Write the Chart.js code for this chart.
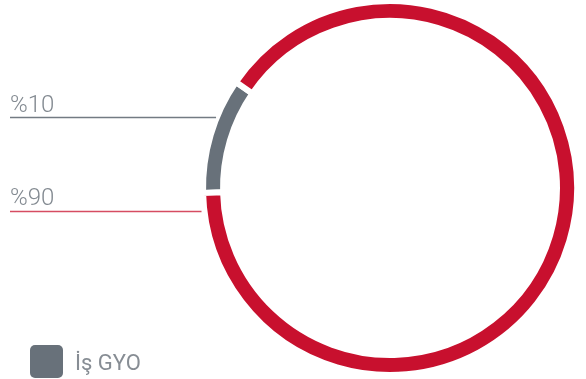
<!DOCTYPE html>
<html>
<head>
<meta charset="utf-8">
<script src="https://cdn.jsdelivr.net/npm/chart.js@4/dist/chart.umd.min.js"></script>
<style>
  html, body { margin: 0; padding: 0; background: #ffffff; overflow: hidden; }
  #wrap { position: relative; width: 586px; height: 379px; overflow: hidden; }
  #c { position: absolute; left: 0; top: -10px; }
  .pct { position: absolute; font-family: Roboto, "Liberation Sans", sans-serif; font-weight: 300;
         font-size: 24px; line-height: 24px; color: #838a91; white-space: nowrap; }
  #legend { position: absolute; left: 30px; top: 345px; display: flex; align-items: center; }
  #legend .box { width: 33px; height: 33px; border-radius: 5px; background: #68717a; }
  #legend .txt { margin-left: 12px; margin-top: 2px; font-family: Roboto, "Liberation Sans", sans-serif; font-size: 22px;
                 line-height: 22px; color: #878d94; white-space: nowrap; }
</style>
</head>
<body>
<div id="wrap">
  <canvas id="c" width="586" height="399"></canvas>
  <div class="pct" id="lbl0"></div>
  <div class="pct" id="lbl1"></div>
  <div id="legend"><div class="box"></div><div class="txt" id="legtxt"></div></div>
</div>
<script>
// ---- data ----
const categories = ['İş GYO', 'Diğer'];
const values = [10, 90];
const percentLabels = ['%10', '%90'];
const colors = ['#68717a', '#c8102e'];

// ---- layout / style (not data) ----
const CANVAS_SHIFT = 10; // canvas is placed 10px above the page top
const labelLayout = [
  { textTop: 92,  lineY: 117.5, gap: 4, lineColor: '#737b83' },
  { textTop: 185, lineY: 211.5, gap: 6, lineColor: 'rgba(200,16,46,0.75)' }
];
const BW = 6;

document.getElementById('lbl0').textContent = percentLabels[0];
document.getElementById('lbl1').textContent = percentLabels[1];
document.getElementById('legtxt').textContent = categories[0];
labelLayout.forEach((l, i) => {
  const el = document.getElementById('lbl' + i);
  el.style.left = '10px';
  el.style.top = l.textTop + 'px';
});

const leaderLines = {
  id: 'leaderLines',
  afterDatasetsDraw(chart) {
    const arc = chart.getDatasetMeta(0).data[0];
    if (!arc) return;
    const { x, y, outerRadius } = arc.getProps(['x', 'y', 'outerRadius'], true);
    const R = outerRadius - BW / 2;
    const ctx = chart.ctx;
    ctx.save();
    ctx.lineWidth = 1.5;
    labelLayout.forEach(l => {
      const ly = l.lineY + CANVAS_SHIFT;
      const dy = ly - y;
      const xEnd = x - Math.sqrt(Math.max(R * R - dy * dy, 0)) - l.gap;
      ctx.strokeStyle = l.lineColor;
      ctx.beginPath();
      ctx.moveTo(10, ly);
      ctx.lineTo(xEnd, ly);
      ctx.stroke();
    });
    ctx.restore();
  }
};

new Chart(document.getElementById('c'), {
  type: 'doughnut',
  data: {
    labels: categories,
    datasets: [{
      data: values,
      backgroundColor: colors,
      borderColor: '#ffffff',
      borderWidth: BW,
      borderAlign: 'center',
      hoverOffset: 0,
      hoverBorderWidth: BW
    }]
  },
  options: {
    responsive: false,
    animation: false,
    rotation: 268.5,
    cutout: '89.3%',
    layout: { padding: { left: 200, right: 6, top: 8, bottom: 11 } },
    plugins: { legend: { display: false }, tooltip: { enabled: false } }
  },
  plugins: [leaderLines]
});
</script>
</body>
</html>
